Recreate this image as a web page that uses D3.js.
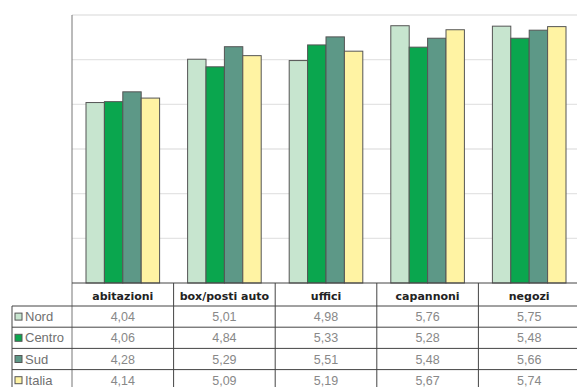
<!DOCTYPE html>
<html><head><meta charset="utf-8">
<script src="https://cdn.jsdelivr.net/npm/d3@7"></script>
<style>body{margin:0;background:#fff;}svg{display:block;}</style>
</head><body>
<svg id="c" width="577" height="387"></svg>
<script>
const categories = ["abitazioni", "box/posti auto", "uffici", "capannoni", "negozi"];
const seriesNames = ["Nord", "Centro", "Sud", "Italia"];
const nord   = [4.04, 5.01, 4.98, 5.76, 5.75];
const centro = [4.06, 4.84, 5.33, 5.28, 5.48];
const sud    = [4.28, 5.29, 5.51, 5.48, 5.66];
const italia = [4.14, 5.09, 5.19, 5.67, 5.74];
const yTicks = [1, 2, 3, 4, 5, 6];
const colors = ["#c7e5cf", "#0aa64e", "#5d9887", "#fff3a3"];

(function(){
const values = [nord, centro, sud, italia];
const svg = d3.select("#c");
const W = 577;
const plotTop = 15, base = 283, left = 72, right = 580;

const x0 = d3.scaleBand().domain(categories).range([left, right]);
const x1 = d3.scaleBand().domain(seriesNames).range([14, x0.bandwidth() - 14]);
const y = d3.scaleLinear().domain([0, 6]).range([base, plotTop]);

svg.append("g").selectAll("line").data(yTicks).join("line")
  .attr("x1", left).attr("x2", W)
  .attr("y1", d => y(d)).attr("y2", d => y(d))
  .attr("stroke", "#e4e4e4").attr("stroke-width", 1.3);

const g = svg.append("g");
categories.forEach((c, ci) => {
  seriesNames.forEach((s, si) => {
    const v = values[si][ci];
    g.append("rect")
      .attr("x", x0(c) + x1(s))
      .attr("y", y(v))
      .attr("width", x1.bandwidth())
      .attr("height", base - y(v))
      .attr("fill", colors[si])
      .attr("stroke", "#555")
      .attr("stroke-width", 1);
  });
});

svg.append("line").attr("x1", left).attr("x2", left).attr("y1", plotTop).attr("y2", 387)
  .attr("stroke", "#777").attr("stroke-width", 1);

const rowTop = 306, rowH = 21.2;
const tline = svg.append("g").attr("stroke", "#444").attr("stroke-width", 1);
tline.append("line").attr("x1", left).attr("x2", W).attr("y1", base).attr("y2", base);
seriesNames.forEach((s, i) => {
  const yy = rowTop + i * rowH;
  tline.append("line").attr("x1", 12).attr("x2", W).attr("y1", yy).attr("y2", yy);
});
tline.append("line").attr("x1", 12).attr("x2", 12).attr("y1", rowTop).attr("y2", 387);
categories.forEach((c, i) => {
  if (i > 0) tline.append("line").attr("x1", x0(c)).attr("x2", x0(c)).attr("y1", base).attr("y2", 387);
});

svg.append("g").selectAll("text").data(categories).join("text")
  .attr("x", d => x0(d) + x0.bandwidth() / 2)
  .attr("y", base + 16.5)
  .attr("text-anchor", "middle")
  .attr("font-family", "DejaVu Sans, Verdana, sans-serif")
  .attr("font-weight", "bold")
  .attr("font-size", 11)
  .attr("fill", "#222")
  .text(d => d);

const fmt = v => v.toFixed(2).replace(".", ",");
seriesNames.forEach((s, si) => {
  const yy = rowTop + si * rowH + rowH / 2 + 4.5;
  categories.forEach((c, ci) => {
    svg.append("text")
      .attr("x", x0(c) + x0.bandwidth() / 2)
      .attr("y", yy)
      .attr("text-anchor", "middle")
      .attr("font-family", "Liberation Sans, Arial, sans-serif")
      .attr("font-size", 12.5)
      .attr("fill", "#888")
      .text(fmt(values[si][ci]));
  });
  svg.append("rect")
    .attr("x", 15).attr("y", rowTop + si * rowH + rowH / 2 - 3.5)
    .attr("width", 7).attr("height", 7)
    .attr("fill", colors[si]).attr("stroke", "#555").attr("stroke-width", 1);
  svg.append("text")
    .attr("x", 25).attr("y", yy)
    .attr("font-family", "Liberation Sans, Arial, sans-serif")
    .attr("font-size", 13)
    .attr("fill", "#707070")
    .text(s);
});
})();
</script>
</body></html>
